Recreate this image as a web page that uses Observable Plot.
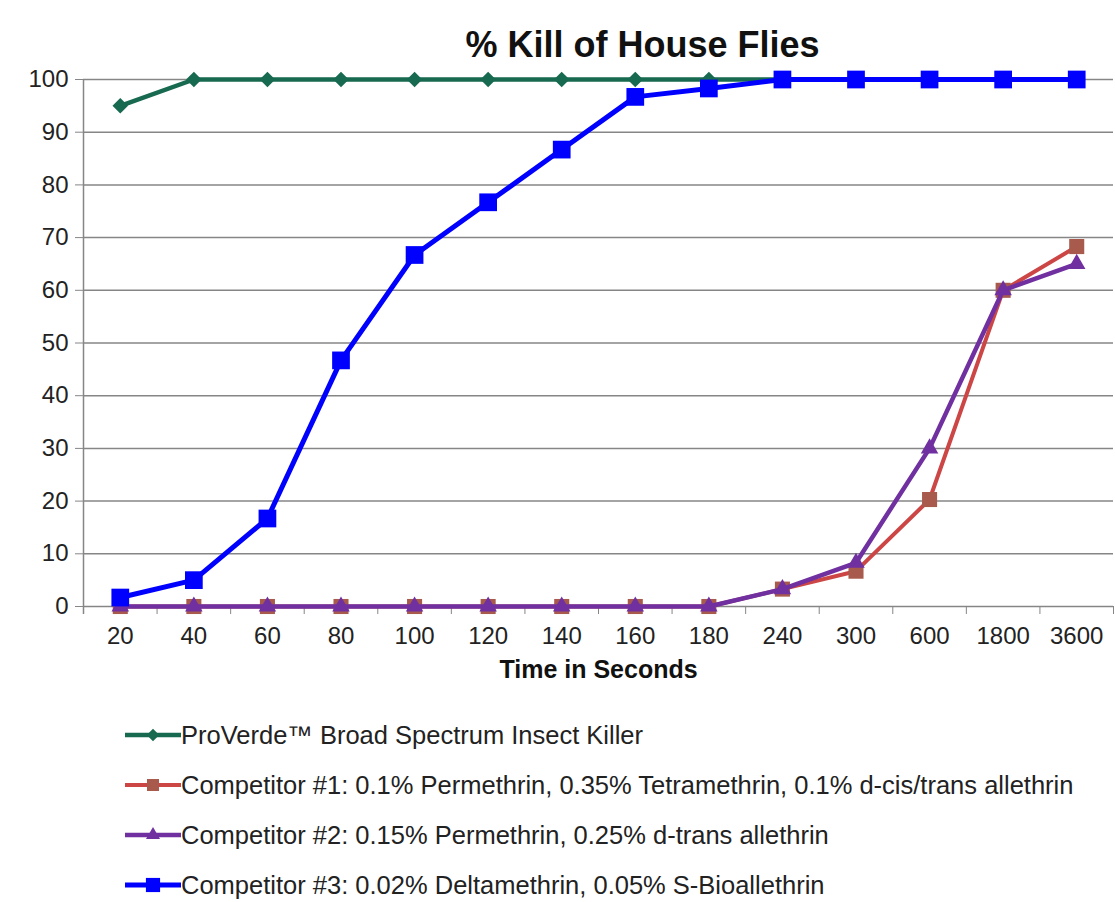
<!DOCTYPE html>
<html>
<head>
<meta charset="utf-8">
<script src="https://cdn.jsdelivr.net/npm/d3@7"></script>
<script src="https://cdn.jsdelivr.net/npm/@observablehq/plot@0.6"></script>
<style>
  body { margin: 0; background: #fff; font-family: "Liberation Sans", Arial, sans-serif; }
  #wrap { width: 1115px; }
  .leg-row { height: 50px; display: flex; align-items: center; padding-left: 123px; font-size: 25.5px; color: #222; white-space: nowrap; }
  .leg-row svg { flex: none; }
</style>
</head>
<body>
<div id="wrap"></div>
<script>
// ---- data ----
const times = ["20","40","60","80","100","120","140","160","180","240","300","600","1800","3600"];
const proVerde = [95,100,100,100,100,100,100,100,100,100,100,100,100,100];
const comp1 = [0,0,0,0,0,0,0,0,0,3.3,6.7,20.3,60,68.3];
const comp2 = [0,0,0,0,0,0,0,0,0,3.3,8.3,30,60,65];
const comp3 = [1.7,5,16.7,46.7,66.7,76.7,86.7,96.7,98.3,100,100,100,100,100];
const yTicks = [0,10,20,30,40,50,60,70,80,90,100];
const seriesNames = [
  "ProVerde\u2122 Broad Spectrum Insect Killer",
  "Competitor #1: 0.1% Permethrin, 0.35% Tetramethrin, 0.1% d-cis/trans allethrin",
  "Competitor #2: 0.15% Permethrin, 0.25% d-trans allethrin",
  "Competitor #3: 0.02% Deltamethrin, 0.05% S-Bioallethrin"
];
const titleText = "% Kill of House Flies";
const xTitle = "Time in Seconds";

// ---- styles ----
const styles = [
  {line: "#17694f", fill: "#17694f", sw: 4.5, symbol: "diamond2", r: 7},
  {line: "#cc4646", fill: "#a85a4c", sw: 4, symbol: "square", r: 8.5},
  {line: "#7030a0", fill: "#7030a0", sw: 4.5, symbol: "triangle", r: 6.5},
  {line: "#0000ff", fill: "#0000ff", sw: 5, symbol: "square", r: 10}
];
const allVals = [proVerde, comp1, comp2, comp3];
const rows = allVals.map((vals, i) => times.map((t, j) => ({t, v: vals[j], s: i})));

const W = 1115, H = 710, mL = 83, mR = 2, mT = 79, mB = H - 606;
const step = (W - mL - mR) / times.length;
const gridColor = "#868686";

const marks = [
  Plot.gridY({ticks: yTicks, stroke: gridColor, strokeOpacity: 1, strokeWidth: 1.5}),
  Plot.ruleX([times[0]], {x: d => d, dx: -step / 2, stroke: gridColor, strokeWidth: 1.5, insetBottom: -8}),
  Plot.axisY({ticks: yTicks, tickSize: 8, tickPadding: 7, fontSize: 24, stroke: gridColor, label: null}),
  Plot.axisX({tickSize: 8, dx: step / 2, tickFormat: () => "", stroke: gridColor, label: null}),
  Plot.axisX({tickSize: 0, tickPadding: 20, fontSize: 24, label: null}),
];
rows.forEach((r, i) => {
  const st = styles[i];
  marks.push(Plot.line(r, {x: "t", y: "v", stroke: st.line, strokeWidth: st.sw}));
  marks.push(Plot.dot(r, {x: "t", y: "v", symbol: () => st.symbol, r: st.r, fill: st.fill, stroke: "none"}));
});
marks.push(Plot.text([titleText], {text: d => d, frameAnchor: "top", dx: 44, dy: -48, fontSize: 36, fontWeight: "bold", fill: "#111"}));
marks.push(Plot.text([xTitle], {text: d => d, frameAnchor: "bottom", dy: 71, fontSize: 25, fontWeight: "bold", fill: "#111"}));

const chart = Plot.plot({
  width: W, height: H,
  marginLeft: mL, marginRight: mR, marginTop: mT, marginBottom: mB,
  style: {fontFamily: "'Liberation Sans', Arial, sans-serif", fontSize: "24px", color: "#222", background: "#fff", overflow: "visible"},
  x: {type: "point", domain: times, padding: 0.5, round: false, axis: null},
  y: {domain: [0, 100], axis: null},
  symbol: {type: "identity"},
  marks
});
const wrap = document.getElementById("wrap");
wrap.appendChild(chart);

// ---- legend ----
const legend = document.createElement("div");
seriesNames.forEach((name, i) => {
  const st = styles[i];
  const row = document.createElement("div");
  row.className = "leg-row";
  const svg = d3.create("svg").attr("width", 58).attr("height", 24);
  svg.append("line").attr("x1", 2).attr("x2", 58).attr("y1", 12).attr("y2", 12)
     .attr("stroke", st.line).attr("stroke-width", st.sw);
  const symMap = {diamond2: d3.symbolDiamond2, square: d3.symbolSquare, triangle: d3.symbolTriangle};
  svg.append("path").attr("transform", "translate(30,12)")
     .attr("d", d3.symbol(symMap[st.symbol], Math.PI * (st.r * 0.8) ** 2)())
     .attr("fill", st.fill);
  row.appendChild(svg.node());
  const span = document.createElement("span");
  span.textContent = name;
  row.appendChild(span);
  legend.appendChild(row);
});
wrap.appendChild(legend);
</script>
</body>
</html>
